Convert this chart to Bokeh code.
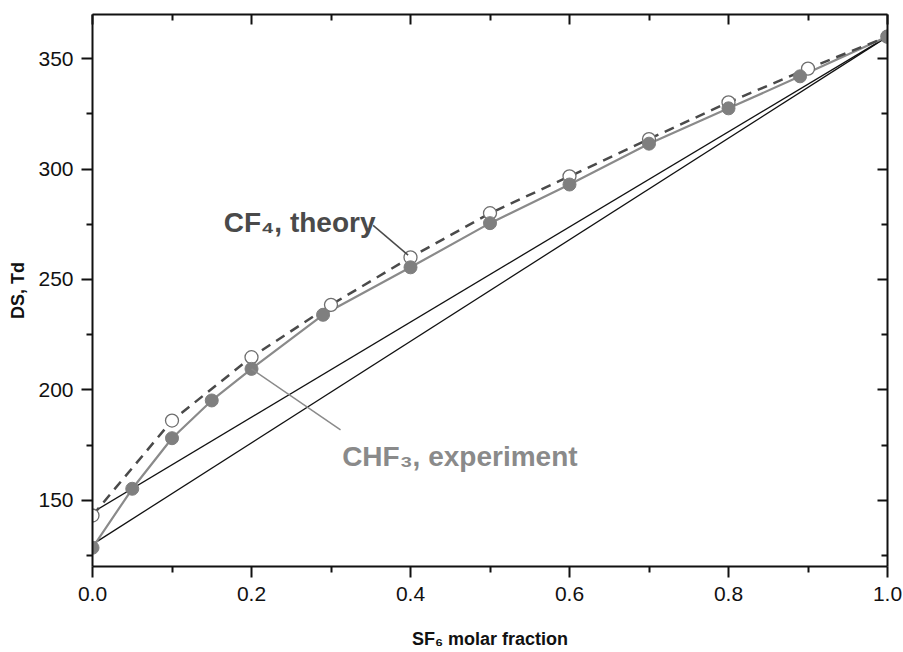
from bokeh.plotting import figure
from bokeh.models import LinearAxis, Range1d, FixedTicker, PrintfTickFormatter
from bokeh.core.properties import value
from bokeh.embed import file_html
from bokeh.resources import INLINE

# --- data ---
exp_x = [0.0, 0.05, 0.10, 0.15, 0.20, 0.29, 0.40, 0.50, 0.60, 0.70, 0.80, 0.89, 1.00]
exp_y = [128.5, 155.2, 178.1, 195.2, 209.5, 234.0, 255.5, 275.5, 293.0, 311.5, 327.5, 342.0, 360.0]

th_x = [0.0, 0.10, 0.20, 0.30, 0.40, 0.50, 0.60, 0.70, 0.80, 0.90, 1.00]
th_y = [143.1, 186.1, 214.8, 238.5, 260.0, 280.0, 296.7, 313.6, 330.2, 345.5, 360.0]

lin_x = [0.0, 1.0]
lin_upper = [144.5, 360.0]
lin_lower = [130.0, 360.0]

x_major = [0.0, 0.2, 0.4, 0.6, 0.8, 1.0]
x_minor = [0.1, 0.3, 0.5, 0.7, 0.9]
y_major = [150, 200, 250, 300, 350]
y_minor = [125, 175, 225, 275, 325]

FONT = "Liberation Sans"

p = figure(width=903, height=652, output_backend="svg", toolbar_location=None,
           x_range=Range1d(0.0, 1.0), y_range=Range1d(120, 370),
           min_border_left=92, min_border_right=16, min_border_top=14,
           min_border_bottom=86)
p.xgrid.visible = False
p.ygrid.visible = False
p.outline_line_color = None
p.background_fill_color = "white"
p.border_fill_color = "white"

xt = FixedTicker(ticks=x_major, minor_ticks=x_minor)
yt = FixedTicker(ticks=y_major, minor_ticks=y_minor)

def style(ax, inward):
    ax.axis_line_width = 2
    ax.axis_line_color = "#111111"
    ax.major_tick_line_width = 2
    ax.minor_tick_line_width = 2
    ax.major_tick_line_color = "#111111"
    ax.minor_tick_line_color = "#111111"
    if inward:
        ax.major_tick_in = 10
        ax.major_tick_out = 0
        ax.minor_tick_in = 6
        ax.minor_tick_out = 0
        ax.major_label_text_color = None
        ax.major_label_standoff = 0
    else:
        ax.major_tick_in = 0
        ax.major_tick_out = 11
        ax.minor_tick_in = 0
        ax.minor_tick_out = 6
        ax.major_label_text_font = FONT
        ax.major_label_text_font_size = "21px"
        ax.major_label_text_color = "#111111"
        ax.axis_label_text_font = FONT
        ax.axis_label_text_font_style = "bold"
        ax.axis_label_text_font_size = "18px"
        ax.axis_label_text_color = "#111111"

xa = p.xaxis[0]
xa.ticker = xt
xa.formatter = PrintfTickFormatter(format="%.1f")
xa.axis_label = "SF\u2086 molar fraction"
style(xa, False)
xa.major_label_standoff = 9
xa.axis_label_standoff = 25

ya = p.yaxis[0]
ya.ticker = yt
ya.axis_label = "DS, Td"
style(ya, False)
ya.major_label_standoff = 8
ya.axis_label_standoff = 7

top = LinearAxis(ticker=FixedTicker(ticks=x_major, minor_ticks=x_minor))
style(top, True)
p.add_layout(top, "above")
right = LinearAxis(ticker=FixedTicker(ticks=y_major, minor_ticks=y_minor))
style(right, True)
p.add_layout(right, "right")

# additive (linear) reference lines
p.line(lin_x, lin_upper, line_color="#111111", line_width=1.3)
p.line(lin_x, lin_lower, line_color="#111111", line_width=1.3)

# experiment line and theory dashed line
p.line(exp_x, exp_y, line_color="#8a8a8a", line_width=2.2)
p.line(th_x, th_y, line_color="#4a4a4a", line_width=2.5, line_dash="10 7")

# markers
p.scatter(th_x, th_y, size=13, marker="circle", fill_color="white",
          line_color="#6e6e6e", line_width=1.3)
p.scatter(exp_x, exp_y, size=13, marker="circle", fill_color="#7f7f7f",
          line_color="#7f7f7f", line_width=1)

# annotation leader lines
p.line([0.353, 0.397], [274.5, 261.0], line_color="#4a4a4a", line_width=1.5)
p.line([0.200, 0.312], [209.5, 181.9], line_color="#8a8a8a", line_width=1.5)

# annotation texts
p.text(x=[0.165], y=[275.8], text=["CF\u2084, theory"], text_font=value(FONT),
       text_font_style="bold", text_font_size="28px", text_color="#4a4a4a",
       text_align="left", text_baseline="alphabetic")
p.text(x=[0.314], y=[169.8], text=["CHF\u2083, experiment"], text_font=value(FONT),
       text_font_style="bold", text_font_size="28px", text_color="#8a8a8a",
       text_align="left", text_baseline="alphabetic")

open("out.html", "w").write(file_html(p, INLINE))
